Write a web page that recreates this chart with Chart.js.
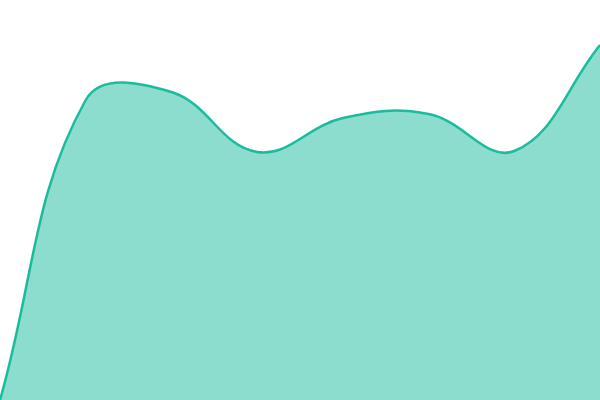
<!DOCTYPE html>
<html><head><meta charset="utf-8">
<script src="https://cdn.jsdelivr.net/npm/chart.js@4"></script>
<style>html,body{margin:0;padding:0;background:#fff}#w{width:600px;height:400px}</style>
</head><body><div id="w"><canvas id="c"></canvas></div>
<script>
const labels = ['1','2','3','4','5','6','7','8'];
const values = [0, 300, 308, 248, 282, 286, 249, 355];
new Chart(document.getElementById('c'), {
  type: 'line',
  data: { labels: labels, datasets: [{
    data: values,
    borderColor: '#1abc9c',
    backgroundColor: 'rgba(26,188,156,0.5)',
    borderWidth: 2.5,
    fill: 'origin',
    tension: 0.4,
    pointRadius: 0
  }]},
  options: {
    responsive: true, maintainAspectRatio: false, animation: false,
    layout: { padding: 0 },
    plugins: { legend: { display: false }, tooltip: { enabled: false } },
    scales: {
      x: { display: false },
      y: { display: false, min: 0, max: 400 }
    }
  }
});
</script></body></html>
